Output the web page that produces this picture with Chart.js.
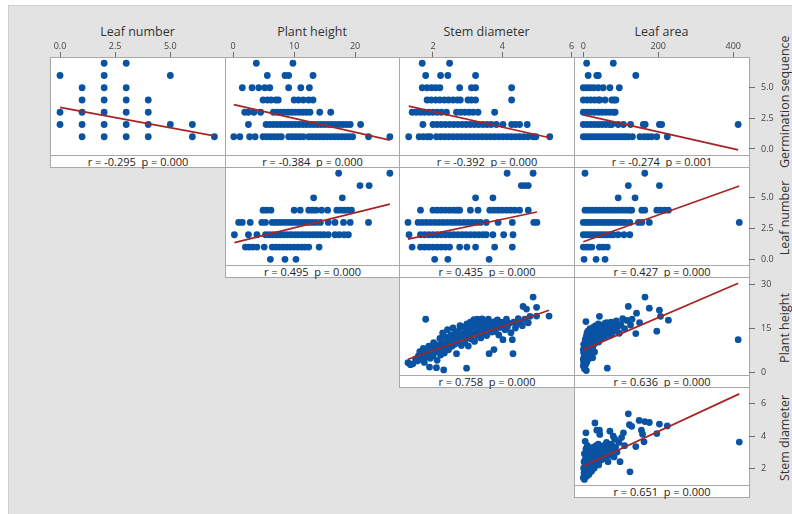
<!DOCTYPE html>
<html><head><meta charset="utf-8">
<script src="https://cdn.jsdelivr.net/npm/chart.js@4.4.1/dist/chart.umd.min.js"></script>
<style>
html,body{margin:0;padding:0;background:#fff;}
#stage{position:relative;width:792px;height:514px;overflow:hidden;background:#fff;font-family:'Open Sans',sans-serif;}
#bg{position:absolute;left:8px;top:5px;right:0;bottom:0;background:#e3e3e3;border-left:1px solid #d0d0d0;border-top:1px solid #d0d0d0;}
.panel{position:absolute;background:#fff;border:1px solid #a8a8a8;box-sizing:border-box;}
.band{position:absolute;left:0;right:0;top:97px;height:12px;box-sizing:border-box;border-top:1px solid #a8a8a8;font-size:11px;line-height:11px;text-align:center;color:#222;white-space:pre;}
.ctitle{position:absolute;top:23px;height:17px;line-height:17px;font-size:12.5px;color:#333;text-align:center;white-space:nowrap;}
.rtitle{position:absolute;width:120px;height:16px;line-height:16px;font-size:12.5px;color:#333;text-align:center;transform:rotate(-90deg);white-space:nowrap;overflow:visible;}
canvas{position:absolute;}
</style></head>
<body><div id="stage"><div id="bg"></div></div>
<script>
// ---------------- DATA ----------------
const colVars = ['Leaf number','Plant height','Stem diameter','Leaf area'];
const rowVars = ['Germination sequence','Leaf number','Plant height','Stem diameter'];
const topTicks = [[0,2.5,5],[0,10,20],[2,4,6],[0,200,400]];
const rightTicks = [[0,2.5,5],[0,2.5,5],[0,15,30],[2,4,6]];
const colMin = [-0.455,-1.34,1.02,-24.8];
const colMax = [7.48,27.2,6.07,441.9];
const rowMin = [-0.49,-0.46,-0.93,0.95];
const rowMax = [7.51,7.51,32.7,7.05];

// Germination sequence (level) vs x-variable
const germByLeafNumber = [[7,[2,3]],[6,[0,2,5]],[5,[1,2,3]],[4,[1,2,3,4]],[3,[0,1,2,3,4]],[2,[0,1,2,3,4,5,6]],[1,[1,2,3,4,6,7]]];
const germByPlantHeight = [
 [7,[3.8,9.8]],
 [6,[5.6,8.5,9.1,13.1]],
 [5,[1.5,3.1,4.2,5.2,6.0,9.1,11.1,12.5]],
 [4,[4.9,5.6,6.2,7.0,7.4,10.0,10.7,11.5,12.4,13.1]],
 [3,[1.9,2.5,3.4,4.5,6.6,7.2,7.8,8.4,9.0,9.6,10.2,10.8,11.4,12.0,12.6,14.2,16.0]],
 [2,[2.5,5.4,6.0,6.6,7.2,7.8,8.4,9.0,9.6,10.2,10.8,11.4,12.0,12.6,13.2,13.8,14.4,15.0,15.6,16.2,16.8,17.4,18.0,18.6,19.2,20.9]],
 [1,[0.1,1.1,2.7,3.6,4.9,5.5,6.1,6.7,7.3,7.9,9.1,9.7,10.3,10.9,11.5,12.4,13.0,13.6,14.2,14.8,15.4,16.0,16.6,17.2,17.8,18.4,19.0,19.6,22.2,25.7]]];
const germByStemDiameter = [
 [7,[1.69,2.48]],
 [6,[1.79,2.22,2.43,3.23]],
 [5,[1.69,1.83,1.96,2.08,2.2,2.77,3.11,3.23,4.27]],
 [4,[1.83,1.95,2.08,2.2,2.33,2.45,2.58,2.7,2.79,3.01,3.11,3.23,4.27]],
 [3,[1.40,1.52,1.64,1.76,1.88,2.0,2.12,2.24,2.39,2.68,2.8,2.92,3.04,3.16,3.30,3.78]],
 [2,[1.71,2.0,2.12,2.24,2.36,2.48,2.6,2.72,2.84,2.96,3.08,3.2,3.32,3.44,3.56,3.68,3.83,4.02,4.27,4.38,4.5,4.72]],
 [1,[1.30,1.60,1.72,1.84,1.92,2.10,2.22,2.34,2.46,2.58,2.7,2.82,2.94,3.06,3.18,3.3,3.42,3.54,3.66,3.78,3.9,4.02,4.14,4.26,4.38,4.5,4.62,4.74,4.89,4.97,5.37]]];
const germByLeafArea = [
 [7,[9,80]],
 [6,[13,36,40,140]],
 [5,[0,9,18,28,40,53,71,96]],
 [4,[0,10,20,30,40,44,58,76,82,87]],
 [3,[0,10,20,30,40,50,60,70,80,85]],
 [2,[0,10,20,30,40,50,60,70,76,93,107,126,160,165,203,209,413]],
 [1,[0,8,16,24,32,40,48,56,64,72,80,88,96,104,112,120,131,151,162,172,182,196,224]]];

// Leaf number (level) vs x-variable
const leafNumByPlantHeight = [
 [7,[17.3,25.7]],
 [6,[20.8,22.3]],
 [5,[13.2,17.9]],
 [4,[4.9,5.5,6.2,10.0,11.0,12.4,13.0,13.6,14.5,15.5,17.0,17.6,18.2,18.8,19.4]],
 [3,[0.9,1.5,2.8,4.7,5.3,6.4,7.0,7.6,8.2,8.8,9.4,10.0,10.6,11.2,11.8,12.4,13.0,13.6,14.3,15.6,16.7,18.1,19.2,22.2]],
 [2,[0.2,2.5,3.9,5.3,5.9,6.5,7.1,7.7,8.3,8.9,9.5,10.1,10.7,11.3,11.9,12.5,13.1,13.7,14.3,14.9,15.6,16.7,17.4,18.2,18.9]],
 [1,[2.0,2.6,3.2,3.9,5.1,6.4,7.0,7.6,8.2,8.8,9.4,10.0,10.6,11.2,11.8,12.4,14.1]],
 [0,[6.1,8.5,10.3]]];
const leafNumByStemDiameter = [
 [7,[4.14,4.89]],
 [6,[4.55,4.65,4.75]],
 [5,[3.23,3.73]],
 [4,[1.64,2.0,2.12,2.24,2.36,2.48,2.6,2.7,2.77,3.08,3.30,3.64,3.76,3.88,4.0,4.12,4.24,4.36,4.5,4.75]],
 [3,[1.28,1.57,1.69,1.81,1.93,2.05,2.17,2.29,2.41,2.53,2.65,2.77,2.89,3.01,3.13,3.25,3.37,3.54,3.88,4.29,4.91,5.0]],
 [2,[1.31,1.64,1.76,1.88,2.0,2.12,2.24,2.36,2.48,2.6,2.72,2.84,2.96,3.08,3.2,3.32,3.44,3.54,3.73,4.04,4.31]],
 [1,[1.40,1.64,1.76,1.88,2.0,2.12,2.24,2.36,2.48,2.77,2.98,3.23,3.78,4.29]],
 [0,[2.05,2.43,3.62]]];
const leafNumByLeafArea = [
 [7,[4.5,164]],
 [6,[120,203]],
 [5,[93,138]],
 [4,[4.5,14,24,34,44,54,64,74,84,94,104,114,124,129,156,164,196,206,217,227]],
 [3,[0,8,16,24,32,40,48,56,64,72,80,88,96,104,112,124,147,156,176,416]],
 [2,[0,8,16,24,32,40,48,56,64,72,80,93,108.5,124]],
 [1,[0,8,16,23,43,53,64]],
 [0,[2,34,58]]];

// Plant height vs stem diameter  [stem diameter, plant height]
const heightByStemDiameter = [
 [1.28,3.3],[1.35,2.6],[1.42,2.9],[1.5,4.6],[1.55,3.9],[1.58,5.6],[1.62,7.1],[1.66,4.4],[1.7,6.3],[1.72,8.2],[1.75,3.4],[1.78,5.2],[1.79,18.2],[1.82,7.6],[1.85,6.0],[1.88,9.0],[1.9,1.8],[1.92,4.8],[1.95,7.0],[1.98,8.6],[2.0,5.6],[2.02,10.2],
 [2.05,6.8],[2.08,8.0],[2.1,1.6],[2.12,4.1],[2.15,9.4],[2.18,7.3],[2.2,11.6],[2.22,5.9],[2.25,8.8],[2.28,13.5],[2.3,10.0],[2.31,0.8],[2.33,6.6],[2.35,12.2],[2.38,8.3],[2.4,9.7],[2.42,14.6],[2.45,7.7],[2.47,11.0],[2.5,10.4],
 [2.52,12.8],[2.55,8.9],[2.58,15.2],[2.6,11.6],[2.63,9.6],[2.65,13.6],[2.68,6.4],[2.7,12.3],[2.72,10.8],[2.75,14.2],[2.78,16.0],[2.8,11.8],[2.82,9.2],[2.85,13.1],[2.88,15.6],[2.9,12.6],[2.92,10.3],[2.95,14.6],[2.97,1.4],[2.98,16.6],
 [3.0,12.0],[3.02,9.0],[3.05,14.0],[3.08,17.2],[3.1,11.4],[3.12,15.4],[3.15,13.0],[3.18,18.1],[3.2,10.6],[3.22,16.2],[3.25,13.8],[3.28,18.2],[3.3,12.4],[3.32,15.0],[3.35,17.0],[3.38,11.8],[3.4,14.4],[3.42,18.3],[3.45,16.0],[3.48,13.2],
 [3.5,17.6],[3.52,15.2],[3.55,12.6],[3.58,16.8],[3.6,18.2],[3.62,6.4],[3.65,14.6],[3.68,17.0],[3.7,13.8],[3.72,15.8],[3.76,7.8],[3.78,17.4],[3.8,14.0],[3.83,16.4],[3.86,18.0],[3.9,12.8],[3.93,15.4],[3.96,17.2],
 [4.0,16.0],[4.02,11.2],[4.05,17.0],[4.08,14.6],[4.12,18.2],[4.15,15.6],[4.2,16.8],[4.25,13.6],[4.29,11.2],[4.31,6.4],[4.33,17.2],[4.38,15.2],[4.42,16.4],[4.46,18.4],
 [4.52,17.4],[4.58,16.0],[4.6,22.6],[4.65,18.2],[4.7,21.7],[4.75,17.0],[4.8,19.2],[4.89,25.8],[4.99,22.3],[4.99,19.3],[5.35,19.3]];

// Plant height vs leaf area  [leaf area, plant height]
const heightByLeafArea = [
 [0,2.2],[0,4.5],[0,7.8],[1,3.8],[1,6.8],[1,9.6],[2,5.0],[2,6.6],[2,3.0],[3,7.4],[3,1.2],[3,5.6],[4,9.0],[4,4.4],[4,2.0],[5,8.0],[5,11.2],[6,6.0],[6,2.8],[6,4.2],[7,17.4],[7,10.0],[8,12.4],[8,7.2],[8,0.6],[9,5.4],[9,3.4],[10,9.4],[10,13.6],[11,8.4],[11,5.2],[12,11.0],[12,6.4],[13,14.2],[14,9.8],[14,4.6],[15,12.0],[15,7.8],[16,10.6],[17,13.0],[18,8.8],[18,15.0],[19,11.6],[20,9.2],[20,6.0],[21,13.8],[22,12.2],[23,10.2],[24,14.8],[25,8.6],[25,5.0],[26,12.8],[27,11.0],[28,15.6],[29,13.2],[30,9.8],[30,7.0],[31,14.0],[32,12.0],[33,16.0],[34,10.8],[35,13.6],[36,15.0],[37,11.8],[38,14.4],[39,12.6],[40,16.6],[41,10.4],[42,14.2],[43,19.2],[44,13.0],[45,15.4],[46,11.6],[48,14.6],[50,12.4],[52,16.2],[54,13.8],[55,15.0],[57,12.0],[58,16.8],[60,14.4],[62,17.0],[64,1.4],[64,13.2],[66,15.8],[68,14.0],[70,16.4],[72,12.8],[74,17.2],[76,15.0],[78,13.6],[80,16.8],[84,14.6],[88,17.6],[92,15.6],[96,13.4],[100,16.4],[105,18.4],[110,15.0],[116,17.8],[120,22.6],[126,16.2],[130,18.2],[140,13.3],[142,20.3],[150,17.0],[164.5,25.8],[176,22.0],[196,14.1],[203,21.3],[206,19.2],[227,17.9],[413,11.2]];

// Stem diameter vs leaf area  [leaf area, stem diameter]
const stemByLeafArea = [
 [0,1.4],[1,2.0],[2,1.7],[2,2.4],[3,1.3],[3,2.9],[4,2.1],[5,1.6],[5,3.67],[6,2.6],[7,4.2],[7,3.2],[7,1.9],[8,2.3],[9,1.5],[10,2.8],[10,2.0],[11,3.4],[12,2.5],[12,1.8],[13,2.2],[14,3.0],[15,2.6],[15,1.6],[16,2.0],[17,2.9],[18,2.4],[19,3.2],[20,2.1],[21,2.7],[22,1.8],[23,3.0],[24,2.4],[25,2.8],[26,2.2],[27,3.3],[28,2.6],[29,2.0],[30,3.0],[31,4.81],[32,2.5],[33,2.8],[34,3.4],[35,2.3],[36,4.36],[37,2.9],[38,3.1],[39,2.6],[40,3.5],[41,2.2],[42,3.0],[43,4.36],[44,4.1],[45,2.8],[46,3.3],[48,2.5],[50,3.0],[52,2.7],[54,3.4],[56,2.9],[58,3.2],[60,2.6],[62,3.6],[64,3.0],[66,2.4],[68,3.3],[71,4.3],[72,2.8],[75,3.5],[78,3.1],[80,3.99],[82,2.7],[84,3.8],[86,3.3],[90,3.0],[95,3.6],[98,2.4],[102,3.9],[107,4.2],[110,3.4],[120,5.38],[123,4.7],[124.5,1.77],[129,4.6],[140,3.34],[149,4.97],[155,4.36],[158,4.11],[162,3.64],[164,4.9],[176,4.84],[196,4.15],[203,4.74],[224,4.63],[416,3.62]];

// Correlation labels and fitted lines (panel order: row by row)
const rValues = ['-0.295','-0.384','-0.392','-0.274','0.495','0.435','0.427','0.758','0.636','0.651'];
const pValues = ['0.000','0.000','0.000','0.001','0.000','0.000','0.000','0.000','0.000','0.000'];
const fitIntercepts = [3.4, 3.64, 4.32, 2.78, 1.33, 0.89, 1.43, -0.79, 7.7, 2.12];
const fitSlopes = [-0.333, -0.1133, -0.633, -0.00692, 0.123, 0.592, 0.01089, 4.13, 0.0554, 0.01082];

// ---------------- BUILD ----------------
const levels = (arr) => arr.flatMap(([lv, xs]) => xs.map(x => ({x: x, y: lv})));
const pairs = (arr) => arr.map(([x, y]) => ({x: x, y: y}));

const panelDefs = [
 {r:0,c:0,pts:levels(germByLeafNumber)},
 {r:0,c:1,pts:levels(germByPlantHeight)},
 {r:0,c:2,pts:levels(germByStemDiameter)},
 {r:0,c:3,pts:levels(germByLeafArea)},
 {r:1,c:1,pts:levels(leafNumByPlantHeight)},
 {r:1,c:2,pts:levels(leafNumByStemDiameter)},
 {r:1,c:3,pts:levels(leafNumByLeafArea)},
 {r:2,c:2,pts:pairs(heightByStemDiameter)},
 {r:2,c:3,pts:pairs(heightByLeafArea)},
 {r:3,c:3,pts:pairs(stemByLeafArea)}
];

const FONT = "'Open Sans', sans-serif";
const stage = document.getElementById('stage');
const COLX = [50, 225, 399, 574, 749];
const ROWY = [57, 167, 277, 387];
const PLOT_H = 98, BAND_H = 12, TOP_AX = 20, RIGHT_AX = 28;
const DOT = '#0a53a3', FIT = '#a82424', TICKC = '#6e6e6e', TICKTXT = '#444';

colVars.forEach((t, c) => {
  const d = document.createElement('div'); d.className = 'ctitle';
  d.style.left = COLX[c] + 'px'; d.style.width = (COLX[c+1]-COLX[c]) + 'px';
  d.textContent = t; stage.appendChild(d);
});
rowVars.forEach((t, r) => {
  const d = document.createElement('div'); d.className = 'rtitle';
  const cy = ROWY[r] + PLOT_H/2 + 2;
  d.style.left = (785 - 60) + 'px'; d.style.top = (cy - 8) + 'px';
  d.textContent = t; stage.appendChild(d);
});

panelDefs.forEach((p, i) => {
  const box = document.createElement('div'); box.className = 'panel';
  box.style.left = COLX[p.c] + 'px'; box.style.top = ROWY[p.r] + 'px';
  box.style.width = (COLX[p.c+1]-COLX[p.c]+1) + 'px';
  box.style.height = (PLOT_H + BAND_H + 1) + 'px';
  const band = document.createElement('div'); band.className = 'band';
  band.textContent = 'r = ' + rValues[i] + '  p = ' + pValues[i];
  box.appendChild(band); stage.appendChild(box);
});

panelDefs.forEach((p, i) => {
  const showX = p.r === 0, showY = p.c === 3;
  const cv = document.createElement('canvas');
  const w = COLX[p.c+1]-COLX[p.c] + (showY ? RIGHT_AX : 0);
  const h = PLOT_H + (showX ? TOP_AX : 0);
  cv.width = w; cv.height = h;
  cv.style.width = w + 'px'; cv.style.height = h + 'px';
  cv.style.left = COLX[p.c] + 'px'; cv.style.top = (ROWY[p.r] - (showX ? TOP_AX : 0)) + 'px';
  stage.appendChild(cv);

  const xs = p.pts.map(o => o.x);
  const x0 = Math.min(...xs), x1 = Math.max(...xs);
  const a = fitIntercepts[i], b = fitSlopes[i];
  const fit = [{x:x0, y:a + b*x0}, {x:x1, y:a + b*x1}];
  const topVals = topTicks[p.c], rightVals = rightTicks[p.r];

  const xScale = {
    type: 'linear', min: colMin[p.c], max: colMax[p.c], position: 'top', display: showX,
    grid: {drawOnChartArea: false, tickLength: 5, color: TICKC},
    border: {display: false},
    ticks: {padding: 0, maxRotation: 0, minRotation: 0, color: TICKTXT, font: {size: 9, family: FONT},
            callback: v => p.c === 0 ? Number(v).toFixed(1) : String(v)},
    afterBuildTicks: s => { s.ticks = topVals.map(v => ({value: v})); }
  };
  if (showX) xScale.afterFit = s => { s.height = TOP_AX; s.paddingLeft = 0; s.paddingRight = 0; };
  const yScale = {
    type: 'linear', min: rowMin[p.r], max: rowMax[p.r], position: 'right', display: showY,
    grid: {drawOnChartArea: false, tickLength: 6, color: TICKC},
    border: {display: false},
    ticks: {padding: 6, color: TICKTXT, font: {size: 9, family: FONT},
            callback: v => p.r <= 1 ? Number(v).toFixed(1) : String(v)},
    afterBuildTicks: s => { s.ticks = rightVals.map(v => ({value: v})); }
  };
  if (showY) yScale.afterFit = s => { s.width = RIGHT_AX; s.paddingTop = 0; s.paddingBottom = 0; };

  new Chart(cv, {
    type: 'scatter',
    data: { datasets: [
      {data: fit, showLine: true, borderColor: FIT, borderWidth: 1.7, pointRadius: 0, pointHoverRadius: 0, order: 0},
      {data: p.pts, pointRadius: 3.4, pointHoverRadius: 0, pointBackgroundColor: DOT, pointBorderColor: DOT, pointBorderWidth: 0, order: 1}
    ]},
    options: {
      responsive: false, animation: false, events: [],
      layout: {padding: 0, autoPadding: false},
      plugins: {legend: {display: false}, tooltip: {enabled: false}},
      scales: {x: xScale, y: yScale}
    }
  });
});
</script>
</body></html>
